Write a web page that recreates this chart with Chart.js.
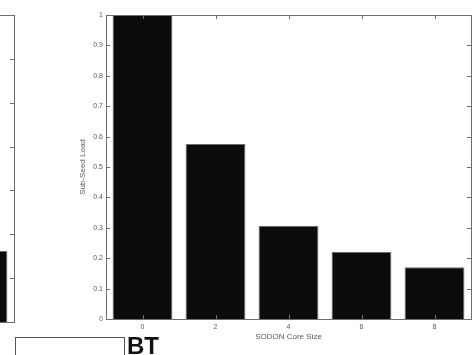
<!DOCTYPE html>
<html>
<head>
<meta charset="utf-8">
<script src="https://cdn.jsdelivr.net/npm/chart.js@4"></script>
<style>
  html, body { margin: 0; padding: 0; background: #fff; }
  body { width: 475px; height: 355px; position: relative; overflow: hidden; }
  #main { position: absolute; left: 0; top: 0; }
  #side { position: absolute; left: -457px; top: 0; }
  #panel { position: absolute; left: 15px; top: 337px; width: 108px; height: 40px; border: 1.5px solid #555; }
  #tag { position: absolute; left: 127px; top: 332px; font: bold 24px "Liberation Sans", Arial, sans-serif; color: #111; }
</style>
</head>
<body>
<canvas id="side" width="475" height="355"></canvas>
<canvas id="main" width="475" height="355"></canvas>
<div id="panel"></div>
<div id="tag">BT</div>
<script>
// data
const coreSizes = ['0', '2', '4', '6', '8'];
const subSeedLoad = [1.0, 0.576, 0.307, 0.22, 0.17];
const yTicksMain = { min: 0, max: 1, step: 0.1 };

// neighbouring panel, only its last bar is visible
const sideLabels = ['0', '2', '4', '6', '8'];
const sideValues = [null, null, null, null, 0.162];
const yTicksSide = { min: 0, max: 0.7, step: 0.1 };

const FONT = '"Liberation Sans", Arial, sans-serif';
const TEXT = '#5a5a5a';
const AXIS = '#6e6e6e';

// matlab style box with ticks pointing inwards on every side
const matlabBox = {
    id: 'matlabBox',
    afterDraw(chart, args, opts) {
        const { ctx, chartArea: a, scales } = chart;
        const len = 4;
        ctx.save();
        ctx.strokeStyle = opts.color || AXIS;
        ctx.lineWidth = 1;
        ctx.strokeRect(a.left + 0.5, a.top + 0.5, a.right - a.left, a.bottom - a.top);
        ctx.beginPath();
        scales.y.ticks.forEach(t => {
            const py = Math.round(scales.y.getPixelForValue(t.value)) + 0.5;
            ctx.moveTo(a.left, py); ctx.lineTo(a.left + len, py);
            ctx.moveTo(a.right, py); ctx.lineTo(a.right - len, py);
        });
        scales.x.ticks.forEach((t, i) => {
            const px = Math.round(scales.x.getPixelForTick(i)) + 0.5;
            ctx.moveTo(px, a.bottom); ctx.lineTo(px, a.bottom - len);
            ctx.moveTo(px, a.top); ctx.lineTo(px, a.top + len);
        });
        ctx.stroke();
        ctx.restore();
    }
};

function tickText(v) {
    return Number(v.toFixed(2)).toString();
}

function barChart(id, labels, values, yr, bottomH, withTitles) {
    new Chart(document.getElementById(id), {
        type: 'bar',
        data: {
            labels: labels,
            datasets: [{
                data: values,
                backgroundColor: '#0b0b0b',
                borderColor: '#6a6a6a',
                borderWidth: 1,
                barPercentage: 0.82,
                categoryPercentage: 1
            }]
        },
        options: {
            responsive: false,
            animation: false,
            layout: { padding: { left: 0, right: 4, top: 15, bottom: 0 } },
            plugins: {
                legend: { display: false },
                tooltip: { enabled: false },
                matlabBox: { color: AXIS }
            },
            scales: {
                x: {
                    grid: { display: false, drawTicks: false },
                    border: { display: false },
                    ticks: { color: TEXT, font: { family: FONT, size: 7 }, padding: 4 },
                    title: {
                        display: withTitles, text: 'SODON Core Size', color: TEXT,
                        font: { family: FONT, size: 8 }, padding: { top: 0, bottom: 13 }
                    },
                    afterFit(s) { s.height = bottomH; }
                },
                y: {
                    min: yr.min, max: yr.max,
                    grid: { display: false, drawTicks: false },
                    border: { display: false },
                    ticks: {
                        stepSize: yr.step, color: TEXT, padding: 3,
                        font: { family: FONT, size: 7 }, callback: tickText
                    },
                    title: {
                        display: withTitles, text: 'Sub-Seed Load', color: TEXT,
                        font: { family: FONT, size: 8 }, padding: { top: 78, bottom: 0 }
                    },
                    afterFit(s) { s.width = 106; }
                }
            }
        },
        plugins: [matlabBox]
    });
}

barChart('side', sideLabels, sideValues, yTicksSide, 33, false);
barChart('main', coreSizes, subSeedLoad, yTicksMain, 36, true);
</script>
</body>
</html>
